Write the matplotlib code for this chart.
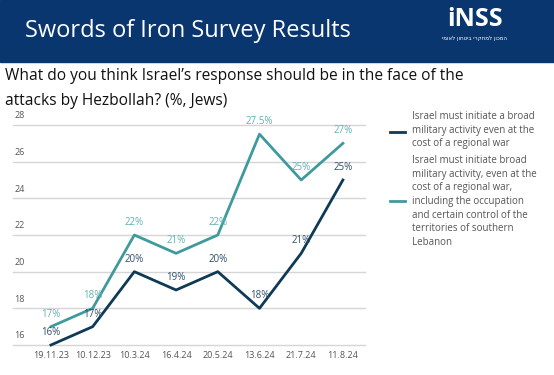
import matplotlib.pyplot as plt
from matplotlib.patches import Rectangle
from matplotlib.lines import Line2D

plt.rcParams['font.family'] = ['Open Sans', 'DejaVu Sans']

dates = ['19.11.23', '10.12.23', '10.3.24', '16.4.24', '20.5.24', '13.6.24', '21.7.24', '11.8.24']
broad = [16, 17, 20, 19, 20, 18, 21, 25]
occupation = [17, 18, 22, 21, 22, 27.5, 25, 27]
broad_labels = ['16%', '17%', '20%', '19%', '20%', '18%', '21%', '25%']
occupation_labels = ['17%', '18%', '22%', '21%', '22%', '27.5%', '25%', '27%']
yticks = [16, 18, 20, 22, 24, 26, 28]

label_broad = ("Israel must initiate a broad\nmilitary activity even at the\n"
               "cost of a regional war")
label_occ = ("Israel must initiate broad\nmilitary activity, even at the\n"
             "cost of a regional war,\nincluding the occupation\n"
             "and certain control of the\nterritories of southern\nLebanon")

dark = '#0e3a55'
teal = '#3f9a9d'
dark_txt = '#2f4f6b'
teal_txt = '#62b1b4'
grey = '#555555'

W, H = 554, 375
fig = plt.figure(figsize=(5.54, 3.75), dpi=100)

# header band
fig.patches.append(Rectangle((0, 1 - 62 / H), 1, 62 / H, transform=fig.transFigure,
                             color='#0a3670', zorder=0))
fig.text(25 / W, 1 - 31 / H, 'Swords of Iron Survey Results', color='white',
         fontsize=17, va='center', ha='left')
fig.text(475 / W, 1 - 20 / H, 'iNSS', color='white', fontsize=18, fontweight='bold',
         va='center', ha='center')
fig.text(475 / W, 1 - 38 / H, 'המכון למחקרי ביטחון לאומי'[::-1], color='white',
         fontsize=4, va='center', ha='center', family=['DejaVu Sans'])

fig.text(5 / W, 1 - 76 / H, 'What do you think Israel’s response should be in the face of the',
         fontsize=11.2, color='#111111', va='center')
fig.text(5 / W, 1 - 101 / H, 'attacks by Hezbollah? (%, Jews)',
         fontsize=11.2, color='#111111', va='center')

ax = fig.add_axes([13 / W, 30 / H, 352 / W, 220 / H])
x = list(range(len(dates)))
ax.plot(x, broad, color=dark, lw=2, clip_on=False, zorder=3)
ax.plot(x, occupation, color=teal, lw=2, clip_on=False, zorder=3)

for xi, v, t in zip(x, broad, broad_labels):
    ax.annotate(t, (xi, v), xytext=(0, 5), textcoords='offset points', ha='center',
                va='bottom', fontsize=7, color=dark_txt, zorder=4)
for xi, v, t in zip(x, occupation, occupation_labels):
    ax.annotate(t, (xi, v), xytext=(0, 5), textcoords='offset points', ha='center',
                va='bottom', fontsize=7, color=teal_txt, zorder=4)

ax.set_xlim(-0.91, 7.53)
ax.set_ylim(16, 28)
for y in yticks:
    ax.axhline(y, color='#d6d6d6', lw=1, zorder=1, clip_on=False)
    ax.text(-0.88, y + 0.25, str(y), fontsize=6.5, color=grey, ha='left', va='bottom')

ax.set_xticks(x)
ax.set_xticklabels(dates, fontsize=6.5, color=grey)
ax.tick_params(axis='x', length=0, pad=4)
ax.set_yticks([])
for s in ax.spines.values():
    s.set_visible(False)

# legend, drawn by hand so the multi-line labels keep their spacing
for label, color, top, handle_y in [(label_broad, dark, 118, 132),
                                    (label_occ, teal, 162, 201)]:
    fig.add_artist(Line2D([390 / W, 405 / W], [1 - handle_y / H] * 2, color=color, lw=2,
                          transform=fig.transFigure))
    fig.text(412 / W, 1 - (top - 7) / H, label, fontsize=7, color=grey, ha='left',
             va='top', linespacing=1.33)

fig.savefig('out.png', dpi=100)
